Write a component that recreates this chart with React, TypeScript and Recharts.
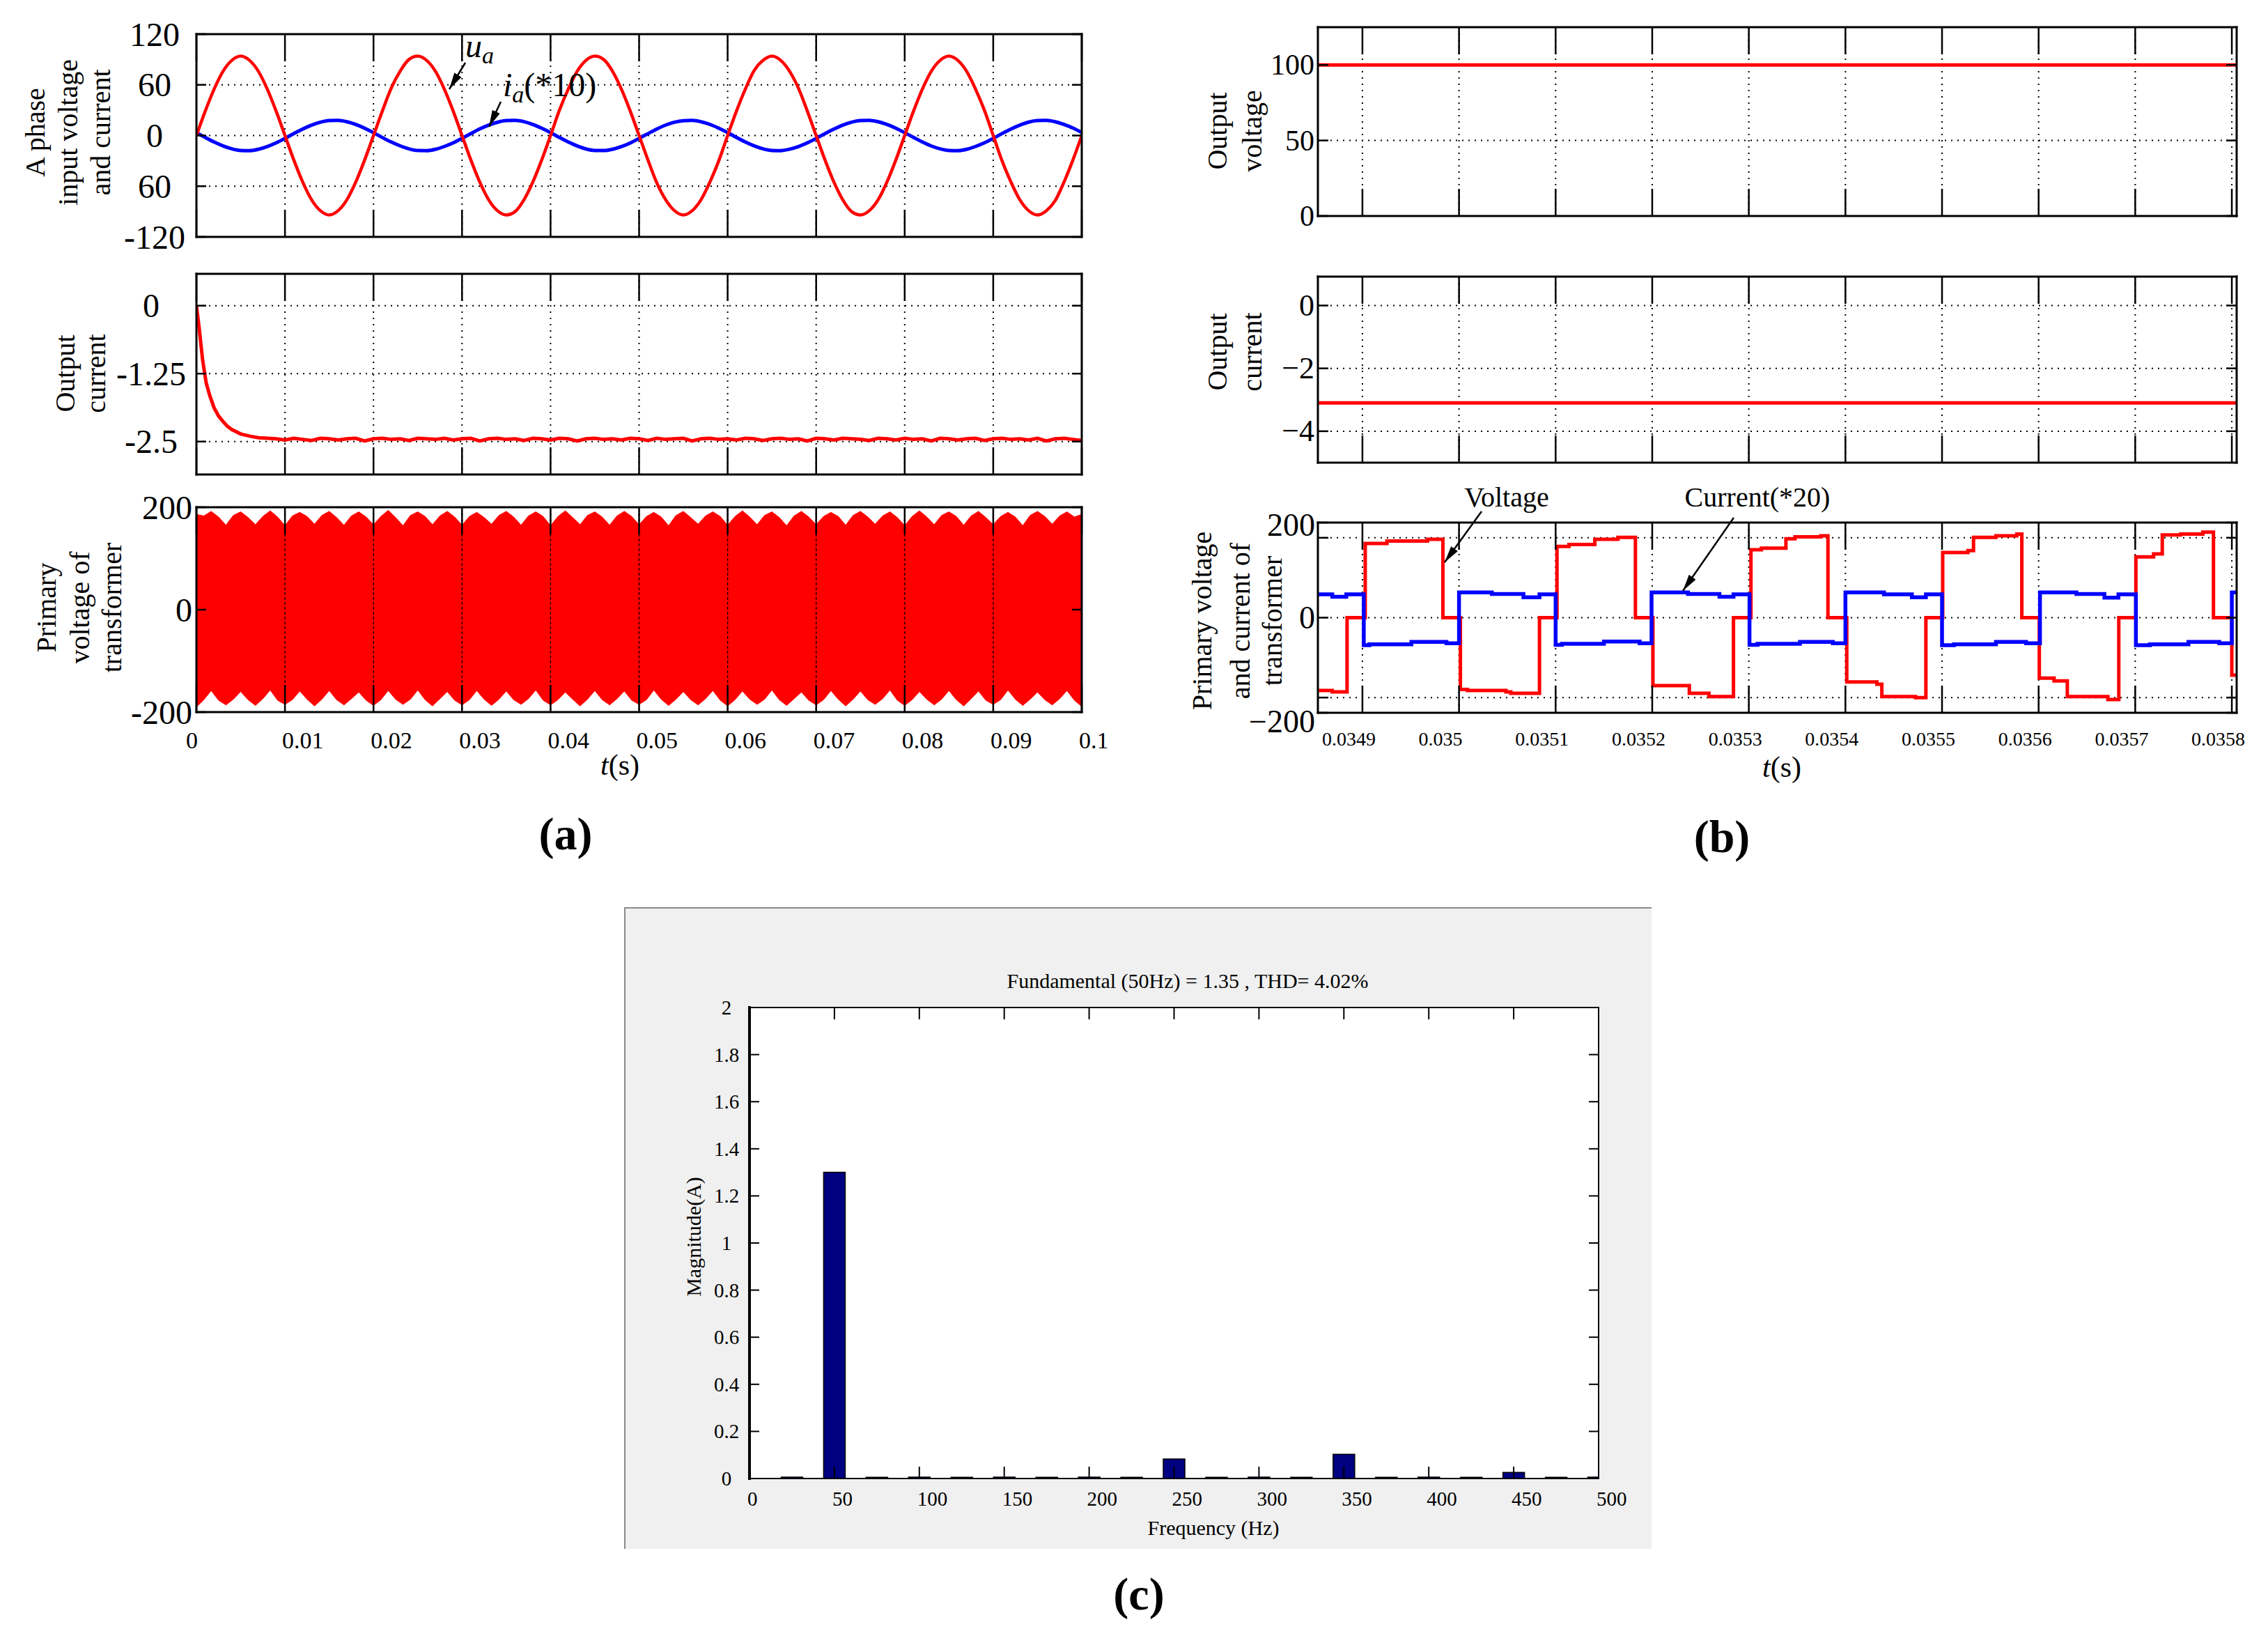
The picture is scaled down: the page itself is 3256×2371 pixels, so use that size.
import React from 'react';
import { LineChart, Line, AreaChart, Area, BarChart, Bar, XAxis, YAxis, CartesianGrid, ReferenceLine } from 'recharts';

const FONT = "'Liberation Serif', 'Times New Roman', Times, serif";
const RED = '#ff0000';
const BLUE = '#0000ff';

// ---------- (a) A phase input voltage / current, 1 ms samples ----------
const phaseTime = Array.from({ length: 101 }, (_, i) => i / 1000);
const uaVolts = [
    0, 29, 55, 76, 89, 94, 89, 76, 55, 29, 0, -29, -55, -76, -89, -94, -89, -76, -55, -29,
    0, 29, 56, 76, 90, 94, 89, 76, 55, 29, 0, -29, -55, -76, -89, -94, -90, -76, -55, -29,
    0, 30, 55, 76, 89, 94, 90, 76, 55, 29, 0, -29, -56, -76, -89, -94, -89, -76, -55, -30,
    0, 29, 55, 77, 89, 94, 89, 76, 56, 29, 0, -29, -55, -76, -90, -94, -89, -76, -55, -29,
    0, 29, 55, 76, 89, 94, 89, 76, 55, 30, 0, -30, -55, -76, -89, -94, -89, -77, -55, -29,
    0,
];
const iaTimes10 = [
    3.4, -2.3, -7.7, -12.3, -15.8, -17.7, -17.9, -16.3, -13.1, -8.7, -3.4, 2.3, 7.7, 12.3, 15.8, 17.7, 17.9, 16.3, 13.1, 8.7,
    3.4, -2.4, -7.7, -12.2, -15.8, -17.8, -17.9, -16.3, -13.0, -8.7, -3.3, 2.3, 7.8, 12.3, 15.7, 17.7, 17.9, 16.4, 13.1, 8.6,
    3.4, -2.3, -7.6, -12.3, -15.9, -17.7, -17.8, -16.3, -13.1, -8.8, -3.4, 2.2, 7.7, 12.4, 15.8, 17.6, 17.9, 16.3, 13.2, 8.7,
    3.5, -2.3, -7.7, -12.3, -15.8, -17.7, -17.9, -16.2, -13.1, -8.7, -3.4, 2.3, 7.6, 12.3, 15.8, 17.7, 18.0, 16.3, 13.1, 8.7,
    3.4, -2.2, -7.7, -12.4, -15.8, -17.7, -17.9, -16.3, -13.0, -8.7, -3.4, 2.4, 7.7, 12.3, 15.9, 17.7, 17.9, 16.3, 13.1, 8.8,
    3.4,
];
const phaseYTicks = [-120, -60, 0, 60, 120];
const phaseYLabels = ['-120', '60', '0', '60', '120'];

// ---------- (a) output current ----------
const outCurTime = [
    0, 0.0003, 0.0007, 0.0011, 0.0015, 0.002, 0.0025, 0.003, 0.0035, 0.004, 0.005, 0.006, 0.007,
    ...Array.from({ length: 93 }, (_, i) => (8 + i) / 1000),
];
const outCurAmps = [
    0, -0.4, -1.0, -1.42, -1.65, -1.88, -2.03, -2.13, -2.22, -2.28, -2.36, -2.4, -2.43,
    -2.44, -2.45, -2.47, -2.44, -2.46, -2.48, -2.44, -2.45, -2.47, -2.45,
    -2.44, -2.49, -2.45, -2.44, -2.46, -2.45, -2.48, -2.44, -2.45, -2.46,
    -2.44, -2.47, -2.45, -2.44, -2.49, -2.45, -2.44, -2.46, -2.45, -2.48,
    -2.44, -2.45, -2.47, -2.44, -2.45, -2.49, -2.45, -2.44, -2.46, -2.45,
    -2.47, -2.44, -2.45, -2.48, -2.44, -2.46, -2.45, -2.44, -2.49, -2.45,
    -2.44, -2.46, -2.45, -2.47, -2.44, -2.45, -2.48, -2.45, -2.44, -2.46,
    -2.45, -2.49, -2.44, -2.45, -2.47, -2.44, -2.45, -2.46, -2.48, -2.44,
    -2.45, -2.47, -2.44, -2.46, -2.45, -2.49, -2.44, -2.45, -2.47, -2.45,
    -2.44, -2.48, -2.45, -2.44, -2.46, -2.45, -2.47, -2.44, -2.49, -2.45,
    -2.44, -2.46, -2.48,
];
const outCurTicks = [-2.5, -1.25, 0];
const outCurLabels = ['-2.5', '-1.25', '0'];

// ---------- (a) primary voltage envelope (dense 5 kHz switching) ----------
const envTime = Array.from({ length: 121 }, (_, i) => i / 1200);
const envUpper = [
    186, 183, 192, 181, 165, 184, 191, 180, 166, 182, 193, 181, 164, 183, 190, 182, 167, 184, 192, 180,
    165, 183, 191, 181, 166, 182, 194, 180, 164, 184, 191, 182, 166, 183, 192, 181, 165, 182, 190, 180,
    167, 184, 192, 181, 165, 183, 191, 182, 164, 182, 193, 180, 166, 184, 191, 181, 165, 183, 192, 182,
    166, 182, 190, 181, 164, 184, 192, 180, 167, 183, 191, 182, 165, 182, 193, 181, 166, 184, 191, 180,
    164, 183, 192, 181, 166, 182, 190, 182, 165, 184, 192, 181, 167, 183, 191, 180, 164, 182, 193, 181,
    166, 184, 191, 182, 165, 183, 192, 180, 166, 182, 190, 181, 164, 184, 192, 182, 167, 183, 191, 181, 186,
];
const envLower = [
    -190, -176, -158, -177, -186, -175, -160, -176, -187, -174, -157, -177, -185, -176, -159, -175, -188, -175, -158, -176,
    -186, -174, -161, -177, -187, -176, -158, -175, -185, -175, -157, -176, -188, -174, -160, -177, -186, -176, -158, -175,
    -187, -175, -159, -176, -185, -174, -157, -177, -186, -176, -161, -175, -188, -175, -158, -176, -186, -174, -159, -177,
    -185, -176, -157, -175, -187, -175, -160, -176, -186, -174, -158, -177, -188, -176, -159, -175, -185, -175, -157, -176,
    -187, -174, -161, -177, -186, -176, -158, -175, -188, -175, -159, -176, -185, -174, -157, -177, -187, -176, -160, -175,
    -186, -175, -158, -176, -188, -174, -159, -177, -185, -176, -157, -175, -187, -175, -161, -176, -186, -174, -158, -177, -189,
];
const primYTicks = [-200, 0, 200];
const primYLabels = ['-200', '0', '200'];

const aTimeTicks = [0, 0.01, 0.02, 0.03, 0.04, 0.05, 0.06, 0.07, 0.08, 0.09, 0.1];
const aTimeLabels = ['0', '0.01', '0.02', '0.03', '0.04', '0.05', '0.06', '0.07', '0.08', '0.09', '0.1'];

// ---------- (b) zoomed window ----------
const bDomain: [number, number] = [0.0348539, 0.0358050];
const bTimeTicks = [0.0349, 0.035, 0.0351, 0.0352, 0.0353, 0.0354, 0.0355, 0.0356, 0.0357, 0.0358];
const bTimeLabels = ['0.0349', '0.035', '0.0351', '0.0352', '0.0353', '0.0354', '0.0355', '0.0356', '0.0357', '0.0358'];

const outVoltTime = [0.0348539, 0.035805];
const outVoltValue = [100, 100];
const outVoltTicks = [0, 50, 100];
const outVoltLabels = ['0', '50', '100'];

const outCurBTime = [0.0348539, 0.035805];
const outCurBValue = [-3.1, -3.1];
const outCurBTicks = [-4, -2, 0];
const outCurBLabels = ['\u22124', '\u22122', '0'];

const primVTime = [
    0.0348539, 0.0348688, 0.0348841, 0.0349029, 0.0349254, 0.0349674, 0.0349833,
    0.0350014, 0.0350087, 0.0350486, 0.0350536, 0.0350833,
    0.0351014, 0.0351138, 0.0351406, 0.0351645, 0.0351826,
    0.0352007, 0.0352384, 0.0352587, 0.0352841,
    0.0353022, 0.035313, 0.0353384, 0.0353478, 0.0353746, 0.0353819,
    0.0354014, 0.0354326, 0.0354377, 0.0354725, 0.0354833,
    0.0355007, 0.0355268, 0.0355326, 0.0355558, 0.0355775, 0.0355826,
    0.0356007, 0.0356160, 0.0356297, 0.0356717, 0.0356830,
    0.0357007, 0.035719, 0.0357280, 0.0357470, 0.0357700, 0.0357810,
    0.0358, 0.035805,
];
const primVValue = [
    -153, -156, 0, 156, 161, 165, 0,
    -151, -153, -156, -159, 0,
    150, 154, 165, 169, 0,
    -143, -159, -166, 0,
    143, 146, 166, 170, 172, 0,
    -135, -140, -166, -168, 0,
    137, 141, 169, 172, 176, 0,
    -127, -133, -166, -172, 0,
    128, 134, 174, 176, 180, 0,
    -121, -121,
];
const primITime = [
    0.0348539, 0.0348688, 0.0348833,
    0.0349014, 0.0349072, 0.0349507, 0.034987,
    0.035, 0.035034, 0.0350667, 0.0350833,
    0.0351, 0.0351065, 0.03515, 0.035187,
    0.0351993, 0.035237, 0.0352696, 0.0352841,
    0.0353007, 0.035309, 0.0353529, 0.035387,
    0.0354, 0.0354399, 0.0354688, 0.0354833,
    0.0355, 0.0355123, 0.0355558, 0.035587,
    0.0356014, 0.0356391, 0.0356681, 0.0356826,
    0.0357007, 0.0357152, 0.0357551, 0.035787,
    0.0358, 0.035805,
];
const primIValue = [
    49, 44, 49,
    -58, -56, -51, -54,
    53, 50, 43, 49,
    -57, -55, -50, -54,
    53, 50, 44, 49,
    -57, -55, -51, -54,
    53, 49, 43, 49,
    -58, -56, -51, -54,
    53, 50, 42, 49,
    -58, -56, -51, -54,
    53, 53,
];
const primBYTicks = [-200, -168, 0, 168, 200];
const primBYLabels = ['\u2212200', '', '0', '', '200'];

// ---------- (c) FFT of input current ----------
const harmonicFreq = [25, 50, 75, 100, 125, 150, 175, 200, 225, 250, 275, 300, 325, 350, 375, 400, 425, 450, 475, 500];
const harmonicMag = [0.006, 1.3, 0.005, 0.006, 0.005, 0.006, 0.005, 0.006, 0.005, 0.083, 0.005, 0.006, 0.005, 0.103, 0.005, 0.006, 0.005, 0.026, 0.005, 0.006];
const freqTicks = [0, 50, 100, 150, 200, 250, 300, 350, 400, 450, 500];
const freqLabels = ['0', '50', '100', '150', '200', '250', '300', '350', '400', '450', '500'];
const magTicks = [0, 0.2, 0.4, 0.6, 0.8, 1, 1.2, 1.4, 1.6, 1.8, 2];
const magLabels = ['0', '0.2', '0.4', '0.6', '0.8', '1', '1.2', '1.4', '1.6', '1.8', '2'];

const zip = (t: number[], v: number[]) => t.map((x, i) => ({ t: x, v: v[i] }));
const phaseData = phaseTime.map((t, i) => ({ t, ua: uaVolts[i], ia: iaTimes10[i] }));
const envData = envTime.map((t, i) => ({ t, hi: envUpper[i], lo: envLower[i] }));
const barsData = harmonicFreq.map((f, i) => ({ f, mag: harmonicMag[i] }));

const lookup = (vals: number[], labels: string[]) => (v: number) => {
    const i = vals.findIndex(x => Math.abs(x - v) < 1e-9);
    return i >= 0 && labels[i] !== '' ? labels[i] : null;
};

interface TickStyle {
    len: number;
    span: number;
    font?: number;
    dx?: number;
    firstDx?: number;
    dy?: number | ((v: number) => number);
    anchor?: 'start' | 'middle' | 'end';
    text?: (v: number) => string | null;
    width?: number;
}

const xTickOf = (s: TickStyle) => (props: any) => {
    const { x, y, payload, index } = props;
    const v = Number(payload.value);
    const label = s.text ? s.text(v) : null;
    const dx = index === 0 && s.firstDx !== undefined ? s.firstDx : s.dx ?? 0;
    const dy = typeof s.dy === 'function' ? s.dy(v) : s.dy ?? 0;
    const w = s.width ?? 2.5;
    return (
        <g>
            <line x1={x} y1={y} x2={x} y2={y - s.len} stroke="#000" strokeWidth={w} />
            <line x1={x} y1={y - s.span} x2={x} y2={y - s.span + s.len} stroke="#000" strokeWidth={w} />
            {label !== null && (
                <text x={x + dx} y={y + dy} textAnchor={s.anchor ?? 'middle'} dominantBaseline="central"
                    fontFamily={FONT} fontSize={s.font} fill="#000">{label}</text>
            )}
        </g>
    );
};

const yTickOf = (s: TickStyle) => (props: any) => {
    const { x, y, payload } = props;
    const v = Number(payload.value);
    const label = s.text ? s.text(v) : null;
    const dy = typeof s.dy === 'function' ? s.dy(v) : s.dy ?? 0;
    const w = s.width ?? 2.5;
    return (
        <g>
            <line x1={x} y1={y} x2={x + s.len} y2={y} stroke="#000" strokeWidth={w} />
            <line x1={x + s.span} y1={y} x2={x + s.span - s.len} y2={y} stroke="#000" strokeWidth={w} />
            {label !== null && (
                <text x={x + (s.dx ?? 0)} y={y + dy} textAnchor={s.anchor ?? 'end'} dominantBaseline="central"
                    fontFamily={FONT} fontSize={s.font} fill="#000">{label}</text>
            )}
        </g>
    );
};

// axes are 1px thick boxes (recharts skips axes of size 0), so the chart margins are one less than the plot offsets
const frameAxes = (p: {
    xKey: string;
    xDomain: [number, number]; xTicks: number[]; xTick: any;
    yDomain: [number, number]; yTicks: number[]; yTick: any;
    sides?: [number, number, number, number];
}) => {
    const [wb, wt, wl, wr] = p.sides ?? [3, 3, 3, 3];
    const ln = (w: number) => ({ stroke: '#000', strokeWidth: w, strokeLinecap: 'square' as const });
    return [
        <XAxis key="xb" dataKey={p.xKey} type="number" domain={p.xDomain} ticks={p.xTicks} interval={0} height={1}
            tickSize={0} tickMargin={0} tickLine={false} axisLine={ln(wb)} tick={p.xTick} allowDataOverflow />,
        <XAxis key="xt" xAxisId="top" orientation="top" dataKey={p.xKey} type="number" domain={p.xDomain} ticks={p.xTicks} height={1}
            tickSize={0} tick={() => <g />} tickLine={false} axisLine={ln(wt)} allowDataOverflow />,
        <YAxis key="yl" type="number" domain={p.yDomain} ticks={p.yTicks} interval={0} width={1}
            tickSize={0} tickMargin={0} tickLine={false} axisLine={ln(wl)} tick={p.yTick} allowDataOverflow />,
        <YAxis key="yr" yAxisId="right" orientation="right" type="number" domain={p.yDomain} ticks={p.yTicks} width={1}
            tickSize={0} tick={() => <g />} tickLine={false} axisLine={ln(wr)} allowDataOverflow />,
    ];
};

// plot box (page coords) -> chart margins, accounting for 1px axes
const marginFor = (w: number, h: number, plot: { l: number; t: number; r: number; b: number }) => ({
    left: plot.l - 1, top: plot.t - 1, right: w - plot.r - 1, bottom: h - plot.b - 1,
});

const grid = <CartesianGrid stroke="#000" strokeWidth={2} strokeDasharray="2 7" />;
const at = (left: number, top: number): React.CSSProperties => ({ position: 'absolute', left, top });

const PanelA = () => (
    <>
        <div style={at(0, 0)}>
            <LineChart width={1600} height={380} margin={marginFor(1600, 380, { l: 282, t: 49, r: 1553, b: 340 })}>
                {grid}
                {frameAxes({
                    xKey: 't', xDomain: [0, 0.1], xTicks: aTimeTicks, xTick: xTickOf({ len: 39, span: 291 }),
                    yDomain: [-120, 120], yTicks: phaseYTicks,
                    yTick: yTickOf({ len: 14, span: 1271, font: 48, dx: -60, anchor: 'middle', text: lookup(phaseYTicks, phaseYLabels) }),
                })}
                <Line data={phaseData} dataKey="ia" type="monotone" stroke={BLUE} strokeWidth={5} dot={false} isAnimationActive={false} />
                <Line data={phaseData} dataKey="ua" type="monotone" stroke={RED} strokeWidth={4.5} dot={false} isAnimationActive={false} />
            </LineChart>
        </div>
        <div style={at(0, 370)}>
            <LineChart width={1600} height={340} margin={marginFor(1600, 340, { l: 282, t: 23, r: 1553, b: 311 })}>
                {grid}
                {frameAxes({
                    xKey: 't', xDomain: [0, 0.1], xTicks: aTimeTicks, xTick: xTickOf({ len: 39, span: 288 }),
                    yDomain: [-3.106, 0.586], yTicks: outCurTicks,
                    yTick: yTickOf({ len: 14, span: 1271, font: 48, dx: -65, anchor: 'middle', text: lookup(outCurTicks, outCurLabels) }),
                })}
                <Line data={zip(outCurTime, outCurAmps)} dataKey="v" type="linear" stroke={RED} strokeWidth={5} dot={false} isAnimationActive={false} />
            </LineChart>
        </div>
        <div style={at(0, 700)}>
            <AreaChart width={1600} height={400} data={envData} margin={marginFor(1600, 400, { l: 282, t: 28, r: 1553, b: 322 })}>
                {grid}
                {frameAxes({
                    xKey: 't', xDomain: [0, 0.1], xTicks: aTimeTicks,
                    xTick: xTickOf({ len: 39, span: 294, font: 34, dx: -4, firstDx: -15, dy: 40, anchor: 'start', text: lookup(aTimeTicks, aTimeLabels) }),
                    yDomain: [-200, 200], yTicks: primYTicks,
                    yTick: yTickOf({ len: 14, span: 1271, font: 48, dx: -6, anchor: 'end', text: lookup(primYTicks, primYLabels) }),
                })}
                <Area dataKey="hi" type="linear" baseValue={0} stroke={RED} strokeWidth={1} fill={RED} fillOpacity={1} isAnimationActive={false} />
                <Area dataKey="lo" type="linear" baseValue={0} stroke={RED} strokeWidth={1} fill={RED} fillOpacity={1} isAnimationActive={false} />
                {aTimeTicks.slice(1, -1).map(v => (
                    <ReferenceLine key={v} x={v} stroke="#000" strokeWidth={1.3} strokeDasharray="4 3" />
                ))}
            </AreaChart>
        </div>
    </>
);

const PanelB = () => (
    <>
        <div style={at(1700, 0)}>
            <LineChart width={1556} height={360} margin={marginFor(1556, 360, { l: 192, t: 39, r: 1511, b: 310 })}>
                {grid}
                {frameAxes({
                    xKey: 't', xDomain: bDomain, xTicks: bTimeTicks, xTick: xTickOf({ len: 39, span: 271 }),
                    yDomain: [0, 125], yTicks: outVoltTicks,
                    yTick: yTickOf({ len: 15, span: 1319, font: 42, dx: -5, text: lookup(outVoltTicks, outVoltLabels) }),
                })}
                <Line data={zip(outVoltTime, outVoltValue)} dataKey="v" stroke={RED} strokeWidth={5} dot={false} isAnimationActive={false} />
            </LineChart>
        </div>
        <div style={at(1700, 370)}>
            <LineChart width={1556} height={330} margin={marginFor(1556, 330, { l: 192, t: 27, r: 1511, b: 294 })}>
                {grid}
                {frameAxes({
                    xKey: 't', xDomain: bDomain, xTicks: bTimeTicks, xTick: xTickOf({ len: 39, span: 267 }),
                    yDomain: [-5, 0.92], yTicks: outCurBTicks,
                    yTick: yTickOf({ len: 15, span: 1319, font: 44, dx: -5, text: lookup(outCurBTicks, outCurBLabels) }),
                })}
                <Line data={zip(outCurBTime, outCurBValue)} dataKey="v" stroke={RED} strokeWidth={5} dot={false} isAnimationActive={false} />
            </LineChart>
        </div>
        <div style={at(1700, 700)}>
            <LineChart width={1556} height={400} margin={marginFor(1556, 400, { l: 192, t: 50, r: 1511, b: 323 })}>
                {grid}
                {frameAxes({
                    xKey: 't', xDomain: bDomain, xTicks: bTimeTicks,
                    xTick: xTickOf({ len: 39, span: 273, font: 28, dx: -58, dy: 37, anchor: 'start', text: lookup(bTimeTicks, bTimeLabels) }),
                    yDomain: [-200, 200], yTicks: primBYTicks,
                    yTick: yTickOf({
                        len: 15, span: 1319, font: 46, dx: -4, text: lookup(primBYTicks, primBYLabels),
                        dy: (v: number) => (v === -200 ? 12 : v === 200 ? 3 : 0),
                    }),
                })}
                <Line data={zip(primVTime, primVValue)} dataKey="v" type="stepAfter" stroke={RED} strokeWidth={5} dot={false} isAnimationActive={false} />
                <Line data={zip(primITime, primIValue)} dataKey="v" type="stepAfter" stroke={BLUE} strokeWidth={5.5} dot={false} isAnimationActive={false} />
            </LineChart>
        </div>
    </>
);

const PanelC = () => (
    <>
        <div style={{ ...at(896, 1302), width: 1475, height: 921, background: '#f0f0f0', borderTop: '2px solid #8a8a8a', borderLeft: '2px solid #8a8a8a', boxSizing: 'border-box' }} />
        <div style={at(896, 1302)}>
            <BarChart width={1475} height={921} data={barsData} margin={marginFor(1475, 921, { l: 180, t: 144, r: 1399, b: 820 })}>
                <CartesianGrid horizontal={false} vertical={false} fill="#ffffff" />
                {frameAxes({
                    xKey: 'f', xDomain: [0, 500], xTicks: freqTicks,
                    xTick: xTickOf({ len: 17, span: 676, font: 29, dx: -3, dy: 29, anchor: 'start', width: 2, text: lookup(freqTicks, freqLabels) }),
                    yDomain: [0, 2], yTicks: magTicks,
                    yTick: yTickOf({ len: 14, span: 1219, font: 29, dx: -33, anchor: 'middle', width: 2, text: lookup(magTicks, magLabels) }),
                    sides: [2, 2, 4, 2],
                })}
                <Bar dataKey="mag" barSize={31} fill="#000080" stroke="#000" strokeWidth={1.5} isAnimationActive={false} />
            </BarChart>
        </div>
    </>
);

const RotLines = ({ xs, cy, lines, size = 40 }: { xs: number[]; cy: number; lines: string[]; size?: number }) => (
    <>
        {lines.map((s, i) => (
            <text key={i} transform={`translate(${xs[i]},${cy}) rotate(-90)`} textAnchor="middle" dominantBaseline="central" fontSize={size}>{s}</text>
        ))}
    </>
);

const Overlay = () => (
    <svg width={3256} height={2371} style={{ position: 'absolute', left: 0, top: 0, pointerEvents: 'none' }} fontFamily={FONT} fill="#000">
        <defs>
            <marker id="head" markerUnits="userSpaceOnUse" markerWidth={24} markerHeight={12} refX={24} refY={6} orient="auto">
                <path d="M0,0 L24,6 L0,12 z" fill="#000" />
            </marker>
        </defs>

        {/* axis titles */}
        <RotLines xs={[50, 97, 144]} cy={190} lines={['A phase', 'input voltage', 'and current']} />
        <RotLines xs={[93, 137]} cy={536} lines={['Output', 'current']} />
        <RotLines xs={[66, 114, 160]} cy={872} lines={['Primary', 'voltage of', 'transformer']} />
        <RotLines xs={[1747, 1797]} cy={188} lines={['Output', 'voltage']} />
        <RotLines xs={[1747, 1797]} cy={505} lines={['Output', 'current']} />
        <RotLines xs={[1725, 1780, 1826]} cy={891} lines={['Primary voltage', 'and current of', 'transformer']} />
        <RotLines xs={[995]} cy={1775} lines={['Magnitude(A)']} size={30} />

        <text x={890} y={1098} textAnchor="middle" dominantBaseline="central" fontSize={42}><tspan fontStyle="italic">t</tspan>(s)</text>
        <text x={2558} y={1101} textAnchor="middle" dominantBaseline="central" fontSize={42}><tspan fontStyle="italic">t</tspan>(s)</text>
        <text x={1742} y={2192} textAnchor="middle" dominantBaseline="central" fontSize={30}>Frequency (Hz)</text>
        <text x={1705} y={1407} textAnchor="middle" dominantBaseline="central" fontSize={30}>Fundamental (50Hz) = 1.35 , THD= 4.02%</text>

        <text x={812} y={1196} textAnchor="middle" dominantBaseline="central" fontSize={66} fontWeight="bold">(a)</text>
        <text x={2472} y={1200} textAnchor="middle" dominantBaseline="central" fontSize={66} fontWeight="bold">(b)</text>
        <text x={1635} y={2287} textAnchor="middle" dominantBaseline="central" fontSize={66} fontWeight="bold">(c)</text>

        {/* annotations */}
        <text x={668} y={82} fontSize={48} fontStyle="italic">u<tspan fontSize={34} dy={9}>a</tspan></text>
        <line x1={668} y1={90} x2={645} y2={128} stroke="#000" strokeWidth={2.5} markerEnd="url(#head)" />
        <text x={722} y={138} fontSize={48}>
            <tspan fontStyle="italic">i</tspan><tspan fontStyle="italic" fontSize={34} dy={9}>a</tspan><tspan dy={-9}>(*10)</tspan>
        </text>
        <line x1={719} y1={146} x2={702} y2={182} stroke="#000" strokeWidth={2.5} markerEnd="url(#head)" />

        <text x={2163} y={713} textAnchor="middle" dominantBaseline="central" fontSize={40}>Voltage</text>
        <line x1={2127} y1={734} x2={2074} y2={807} stroke="#000" strokeWidth={2.5} markerEnd="url(#head)" />
        <text x={2523} y={713} textAnchor="middle" dominantBaseline="central" fontSize={40}>Current(*20)</text>
        <line x1={2489} y1={743} x2={2416} y2={848} stroke="#000" strokeWidth={2.5} markerEnd="url(#head)" />
    </svg>
);

export default function App() {
    return (
        <div style={{ position: 'absolute', left: 0, top: 0, width: 3256, height: 2371, background: '#fff', overflow: 'hidden' }}>
            <PanelA />
            <PanelB />
            <PanelC />
            <Overlay />
        </div>
    );
}
